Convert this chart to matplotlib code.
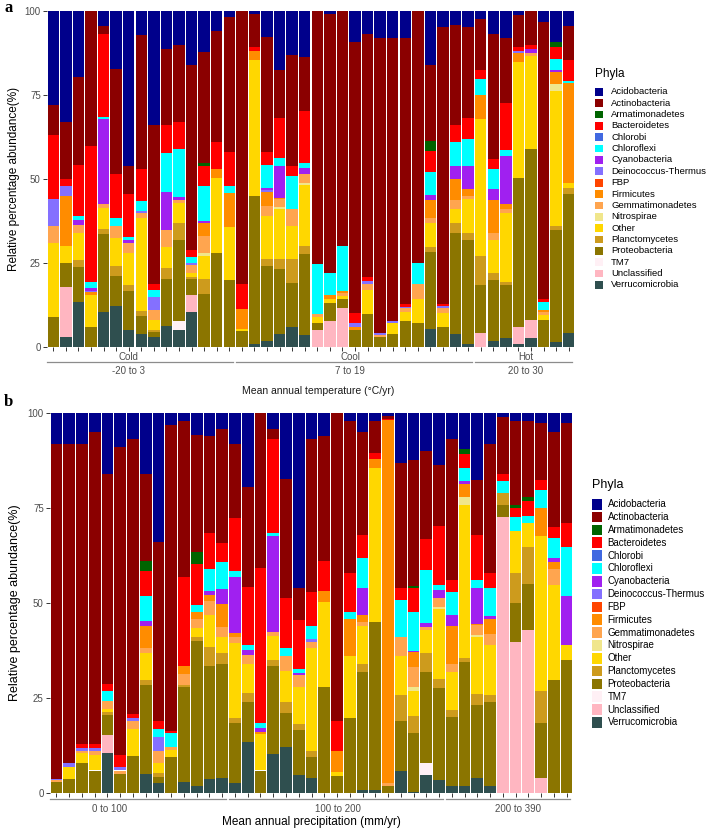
import matplotlib
matplotlib.use("Agg")
import matplotlib.pyplot as plt
from matplotlib.patches import Rectangle

plt.rcParams['font.family'] = ['Liberation Sans', 'DejaVu Sans']

W, H = 708, 830

phyla = ["Acidobacteria", "Actinobacteria", "Armatimonadetes", "Bacteroidetes",
         "Chlorobi", "Chloroflexi", "Cyanobacteria", "Deinococcus-Thermus", "FBP",
         "Firmicutes", "Gemmatimonadetes", "Nitrospirae", "Other", "Planctomycetes",
         "Proteobacteria", "TM7", "Unclassified", "Verrucomicrobia"]
colors = ["#00008B", "#8B0000", "#006400", "#FF0000", "#4169E1", "#00FFFF",
          "#A020F0", "#8470FF", "#FF4500", "#FF8C00", "#FFA54F", "#F0E68C",
          "#FFD700", "#CD9B1D", "#8B7500", "#FFF0F5", "#FFB6C1", "#2F4F4F"]

# ---- panel a: mean annual temperature (42 samples) ----
temp_groups = ["Cold", "Cool", "Hot"]
temp_ranges = ["-20 to 3", "7 to 19", "20 to 30"]
temp_group_size = [15, 19, 8]

temp_acido = [28, 33, 19.8, 0, 4.5, 17.3, 46, 7.1, 34, 11.5, 10.1, 16.1, 12.4, 6, 2, 0, 1, 7.9, 17.6, 13.2,
              13.7, 0, 1, 0, 9.2, 7, 8, 8, 8, 0, 16, 4.7, 4.1, 4.7, 2.5, 7, 8.2, 1.3, 0, 3.3, 9.4, 4.6]
temp_actino = [9, 17, 26, 40.2, 2.4, 31.3, 8.5, 39.9, 47.1, 22.6, 23, 55, 32.9, 32.9, 40.1, 81.1, 9.7, 34.1, 14.4, 32.9,
               16, 75.2, 76.9, 70, 80.6, 72, 87.8, 84.1, 79.1, 75, 22.8, 82.4, 29.9, 27.2, 15.1, 37.1, 19.3, 9.4, 10.2, 82.4, 0, 10.1]
temp_armati = [0, 0, 0, 0, 0, 0, 0, 0, 0, 0, 0, 0, 0.8, 0, 0, 0, 0, 0, 0, 0,
               0, 0, 0, 0, 0, 0, 0, 0, 0, 0, 3, 0, 0, 0, 0, 0, 0, 0, 0, 0, 1.4, 0]
temp_bactero = [19, 2, 15.3, 40.5, 24.6, 13.1, 12.6, 9.4, 1.8, 8.1, 8, 2, 6, 8.2, 10, 7.5, 1.3, 3.9, 11.9, 3,
                15.4, 0, 0, 0, 3, 1.3, 0, 0, 0.8, 0, 6.2, 0.6, 5.1, 6.1, 2.7, 3, 13.9, 1.3, 1.3, 0.7, 3.5, 6.1]
temp_chlorobi = [0] * 42
temp_chlorofl = [0, 0, 1.2, 1.6, 0.7, 2.2, 1.1, 3.1, 2.1, 11.8, 14.1, 1.9, 10.4, 0, 2, 0, 0, 6.8, 2.1, 9.9,
                 1.5, 14.9, 6.5, 13.4, 0, 0, 0, 0, 0, 6.3, 6.7, 0, 7, 8, 4.7, 6, 1.8, 0, 0, 2.5, 3.4, 0.6]
temp_cyano = [0, 0, 1.3, 0.9, 25.1, 0, 0.7, 0, 0, 11.1, 1, 0, 0.5, 0, 0, 0, 0, 0.5, 9.6, 0,
              2, 0, 0, 0, 0, 0, 0, 0, 0, 0, 1.5, 0, 3.9, 7, 0, 3.1, 14.3, 0, 1, 0, 0.6, 0]
temp_deino = [8, 3, 0, 0.5, 0, 0, 0, 0.7, 4, 0, 0, 0.5, 0, 0, 0, 0, 0, 0.7, 0, 0,
              0, 0, 0, 0, 1.2, 0.9, 0.5, 0.8, 0.5, 0, 0, 0.7, 0, 0, 0, 0, 0, 0.7, 0, 0, 0, 0]
temp_fbp = [0] * 42
temp_firmi = [0, 15, 0, 0.8, 0, 0, 0, 0, 0, 0, 0, 0, 3.9, 2.7, 10.1, 6, 2.7, 4, 0.4, 0,
              0, 0, 1.3, 0.5, 1, 0, 0, 0, 0, 0, 5.5, 0, 6.2, 2, 7.3, 9.7, 1.5, 2.4, 0, 0.5, 3.4, 29.7]
temp_gemma = [5, 0, 2.4, 0, 1.3, 3.7, 3.2, 1.5, 3, 5, 0.8, 2.5, 5, 0, 0, 0, 0, 3, 2.2, 5,
              2.5, 0.8, 0, 0.8, 0, 1.8, 0.7, 0, 1, 4.4, 1.5, 1.5, 2.8, 1, 0, 2.2, 1.2, 0, 1, 1, 0, 0]
temp_nitro = [0, 0, 0, 0, 0, 0, 0, 0, 0, 0, 0, 0, 1, 0, 0, 0, 0, 0, 0.8, 0,
              0.7, 0, 0, 0, 0, 0, 0, 0, 0, 0, 0, 0, 0, 0, 0, 0, 0, 0, 0, 0, 2.3, 0]
temp_other = [22, 5, 8, 9.5, 6.3, 8.2, 9.5, 27.4, 2.8, 6.2, 6.2, 1, 6.9, 22.3, 15.8, 0.7, 40.3, 12.9, 14.9, 9.9,
              18.1, 1.8, 1.2, 1, 0, 7.1, 0, 3.1, 2.7, 7, 6.9, 4.2, 4.2, 10.1, 40.6, 9.9, 20.3, 34.7, 27.7, 1.5, 40.1, 1.7]
temp_plancto = [0, 0, 2, 0, 1.4, 2.9, 1.7, 1.6, 0.7, 3.5, 4.9, 0.7, 4.4, 0, 0, 0, 0, 2, 2.9, 7.1,
                2.5, 0, 0, 0, 0, 0, 0, 0, 0, 0, 1.7, 0, 2.9, 2, 8.6, 2, 1, 0, 0, 0, 1.2, 1.7]
temp_proteo = [9, 7, 10.4, 6, 23.3, 9, 11.7, 5.3, 1.5, 13.9, 24, 4.8, 15.8, 27.9, 20, 4.7, 44, 22.2, 19.2, 13,
               23.9, 2.3, 5.2, 2.5, 5, 9.9, 3, 4, 7.9, 7.3, 22.8, 5.9, 29.9, 30.9, 14.3, 18, 15.8, 44.1, 50.7, 8.1, 33, 41.3]
temp_tm7 = [0, 0, 0, 0, 0, 0, 0, 0, 0, 0, 2.9, 0, 0, 0, 0, 0, 0, 0, 0, 0,
            0, 0, 0, 0, 0, 0, 0, 0, 0, 0, 0, 0, 0, 0, 0, 0, 0, 0, 0, 0, 0, 0]
temp_unclass = [0, 15, 0, 0, 0, 0, 0, 0, 0, 0, 0, 5.1, 0, 0, 0, 0, 0, 0, 0, 0,
                0, 5, 7.9, 11.8, 0, 0, 0, 0, 0, 0, 0, 0, 0, 0, 4.2, 0, 0, 5.1, 5.4, 0, 0, 0]
temp_verruco = [0, 3, 13.6, 0, 10.4, 12.3, 5, 4, 3, 6.3, 5, 10.4, 0, 0, 0, 0, 1, 2, 4, 6,
                3.7, 0, 0, 0, 0, 0, 0, 0, 0, 0, 5.4, 0, 4, 1, 0, 2, 2.7, 1, 2.7, 0, 1.7, 4.2]

# ---- panel b: mean annual precipitation (41 samples) ----
precip_ranges = ["0 to 100", "100 to 200", "200 to 390"]
precip_group_size = [14, 17, 10]

precip_acido = [8.2, 8.1, 8.1, 5, 16, 9, 6.8, 16, 34, 3.1, 2, 5.7, 6, 4.2, 8.1, 19.5, 0, 4.2, 17.4, 46.1,
                6.8, 6, 0, 2, 5, 2, 0.8, 13.2, 12.3, 10, 13.6, 6.7, 9.3, 17.5, 8.1, 1, 2.1, 2, 2.6, 5, 2.5]
precip_actino = [88, 84, 78.9, 82, 55.2, 80.9, 72.3, 23, 47.1, 80.4, 41.2, 30.7, 25.4, 30, 19.4, 26.2, 40.6, 2.6, 31.1, 8.3,
                 40.1, 32.9, 81, 40.1, 27, 8.5, 0.6, 32.9, 33.1, 23.2, 16, 37.3, 0, 14.5, 34, 14.9, 22, 20, 15, 25, 26.5]
precip_armati = [0, 0, 0, 0, 0, 0, 0, 2.5, 0, 0, 0, 3.2, 0, 0, 0, 0, 0, 0, 0, 0,
                 0, 0, 0, 0, 0, 0, 0, 0, 0.7, 0, 0, 0, 1.5, 0, 0, 0, 0.9, 1, 0, 0, 0]
precip_bactero = [0, 0, 1.2, 1.1, 1.8, 3.1, 1, 6.5, 2.1, 0.7, 23.3, 10.8, 9.6, 5, 13.9, 15.3, 40.8, 24.8, 13.2, 13,
                  9.2, 7.9, 7.8, 10.1, 6, 1.5, 0.3, 3, 6.1, 8, 15.6, 3, 3.5, 11.9, 4, 2, 2.2, 4.1, 2.6, 2.9, 6.1]
precip_chlorobi = [0] * 41
precip_chlorofl = [0, 0, 0, 0, 2.6, 0, 0, 6.6, 1.9, 3.5, 0, 2, 5.8, 7, 1.8, 1.4, 1.5, 0.7, 2.1, 1,
                   3.4, 0, 0, 1.9, 7.9, 0, 0, 9.9, 10.3, 13.9, 1.3, 6, 3.5, 2.2, 7.2, 3.1, 3.8, 1.8, 4.8, 5.1, 12.9]
precip_cyano = [0, 0, 0, 0, 0, 0, 0, 1.5, 0, 0, 0, 0, 1, 3.9, 14.5, 1.1, 0.9, 25.3, 0, 0.4,
                0, 0, 0, 0, 7.2, 0, 0, 0, 0.4, 1.1, 2.2, 3.1, 0.7, 9.4, 0.8, 0, 0, 0, 0, 1.1, 13.1]
precip_deino = [0.3, 0.9, 0.6, 0.9, 0, 1, 1, 0, 3.9, 0, 0, 0, 0, 0, 0, 0, 0, 0, 0, 0,
                0.6, 0, 0, 0, 0, 0, 0, 0, 0, 0, 0, 0, 0, 0, 0, 0, 0, 0, 0, 0, 0]
precip_fbp = [0] * 41
precip_firmi = [0, 0, 0, 0, 0, 0, 0, 5.6, 0, 0, 2.1, 1.8, 1.6, 6.1, 1.3, 0, 0.6, 0, 0, 0,
                0, 2.9, 5.7, 9.9, 1.9, 2.5, 95.5, 0, 3.9, 0, 0, 10, 3.5, 0.3, 3.9, 0, 0, 0, 7.3, 1.9, 0]
precip_gemma = [0.6, 0, 0.7, 0.9, 2.3, 1, 2, 1.3, 3.1, 0.9, 2.9, 2.4, 3.7, 2.8, 1.4, 2.4, 0, 1, 3.9, 3.3,
                1.7, 0, 0, 0, 1.1, 0, 0.8, 5, 5.1, 0.7, 2.4, 2.1, 0, 2.5, 3.1, 0, 0, 0, 0, 4.2, 0]
precip_nitro = [0, 0, 0, 0, 0, 0, 0, 0, 0, 0, 0, 0, 0, 0, 0, 0, 0, 0, 0, 0,
                0, 0, 0, 0, 0, 0, 0, 0, 1.1, 0, 0.5, 0, 2.2, 0.6, 0, 0, 0, 0, 0, 0, 0]
precip_other = [0, 3.2, 2.6, 4.1, 0.6, 0, 7, 7.2, 2.6, 1.8, 0, 2.2, 8.3, 4.2, 19.9, 7.7, 9.6, 6.3, 8.2, 9.6,
                27.1, 22.2, 0.9, 16.1, 10, 40.5, 0, 10.1, 6.6, 6.3, 18.3, 9.9, 40.1, 15, 13, 0, 10.9, 6.2, 40.8, 25, 3.8]
precip_plancto = [0, 0, 0, 0, 0.9, 0, 0, 1.3, 0.9, 0, 0.4, 1.1, 5, 2.8, 1.1, 2.5, 0, 1.6, 2.9, 1.6,
                  1.5, 0, 0, 0, 2.1, 0, 0, 7, 4.6, 5, 2.5, 1.9, 1.1, 2.9, 1.8, 3.1, 7.9, 9.9, 8.5, 0, 0]
precip_proteo = [2.9, 3.8, 7.9, 6, 5.2, 5, 9.9, 23.4, 1.6, 9.6, 25, 38.3, 29.8, 30.1, 16, 10.3, 6, 23.1, 9.1, 11.9,
                 5.7, 28.1, 4.6, 19.9, 30.9, 44.1, 2, 13, 15.5, 23.9, 24.1, 18.2, 32.8, 19.3, 22.3, 3.1, 10.3, 12, 14.5, 29.8, 35.1]
precip_tm7 = [0, 0, 0, 0, 0, 0, 0, 0, 0, 0, 0, 0, 0, 0, 0, 0, 0, 0, 0, 0,
              0, 0, 0, 0, 0, 0, 0, 0, 0, 3.1, 0, 0, 0, 0, 0, 0, 0, 0, 0, 0, 0]
precip_unclass = [0, 0, 0, 0, 4.9, 0, 0, 0, 0, 0, 0, 0, 0, 0, 0, 0, 0, 0, 0, 0,
                  0, 0, 0, 0, 0, 0, 0, 0, 0, 0, 0, 0, 0, 0, 0, 72.8, 39.9, 43, 3.9, 0, 0]
precip_verruco = [0, 0, 0, 0, 10.5, 0, 0, 5.1, 2.8, 0, 3.1, 1.8, 3.8, 3.9, 2.6, 13.6, 0, 10.4, 12.1, 4.8,
                  3.9, 0, 0, 0, 0.9, 0.9, 0, 5.9, 0.3, 4.8, 3.5, 1.8, 1.8, 3.9, 1.8, 0, 0, 0, 0, 0, 0]

temp_data = [temp_acido, temp_actino, temp_armati, temp_bactero, temp_chlorobi, temp_chlorofl,
             temp_cyano, temp_deino, temp_fbp, temp_firmi, temp_gemma, temp_nitro, temp_other,
             temp_plancto, temp_proteo, temp_tm7, temp_unclass, temp_verruco]
precip_data = [precip_acido, precip_actino, precip_armati, precip_bactero, precip_chlorobi, precip_chlorofl,
               precip_cyano, precip_deino, precip_fbp, precip_firmi, precip_gemma, precip_nitro, precip_other,
               precip_plancto, precip_proteo, precip_tm7, precip_unclass, precip_verruco]


def fx(px):
    return px / W


def fy(py):
    return 1 - py / H


def stacked(ax, data):
    n = len(data[0])
    x = list(range(n))
    bottom = [0.0] * n
    # ggplot stacks the last level at the bottom
    for vals, col in zip(data[::-1], colors[::-1]):
        ax.bar(x, vals, bottom=bottom, width=0.92, color=col, linewidth=0)
        bottom = [b + v for b, v in zip(bottom, vals)]
    ax.set_xlim(-0.5, n - 0.5)
    ax.set_ylim(0, 100)
    ax.set_xticks(x)
    ax.set_xticklabels([])
    ax.set_yticks([0, 25, 50, 75, 100])
    ax.tick_params(axis='both', colors='#333333', length=3, width=0.7, labelsize=7,
                   labelcolor='#4D4D4D', pad=1.5)
    for s in ax.spines.values():
        s.set_visible(False)
    return n


def groups(ax, n, sizes, line_y, top_labels, top_y, bottom_labels, bot_y, label_x):
    tr = ax.get_xaxis_transform()
    start = 0
    for i, size in enumerate(sizes):
        end = start + size - 1
        x0 = max(-0.5, start - 0.47)
        x1 = min(n - 0.5, end + 0.3)
        ax.plot([x0, x1], [line_y, line_y], color='#8C8C8C', lw=0.9, transform=tr, clip_on=False)
        if top_labels:
            ax.text(label_x[i], top_y, top_labels[i], transform=tr, ha='center', va='center',
                    fontsize=7, color='#4D4D4D')
        ax.text(label_x[i], bot_y, bottom_labels[i], transform=tr, ha='center', va='center',
                fontsize=7, color='#4D4D4D')
        start += size


def legend(fig, x_key, key_w, key_h, x_text, y_title, y0, dy, fs, fs_title):
    fig.text(fx(x_key), fy(y_title), "Phyla", fontsize=fs_title, ha='left', va='center')
    for i, (name, col) in enumerate(zip(phyla, colors)):
        yc = y0 + i * dy
        fig.add_artist(Rectangle((fx(x_key), fy(yc + key_h / 2)), key_w / W, key_h / H,
                                 transform=fig.transFigure, facecolor=col, edgecolor='none'))
        fig.text(fx(x_text), fy(yc), name, fontsize=fs, ha='left', va='center')


fig = plt.figure(figsize=(W / 100, H / 100), dpi=100)

# panel a
ax1 = fig.add_axes([fx(47), fy(347.3), 528 / W, 336.6 / H])
n1 = stacked(ax1, temp_data)
groups(ax1, n1, temp_group_size, -0.0446, temp_groups, -0.028, temp_ranges, -0.071, [6.0, 23.6, 37.6])
fig.text(fx(318), fy(391), "Mean annual temperature (°C/yr)", fontsize=7.5, ha='center', va='center',
         color='#1A1A1A')
fig.text(fx(14), fy(179), "Relative percentage abundance(%)", rotation=90, fontsize=8.5,
         ha='center', va='center')
fig.text(fx(8.5), fy(8), "a", fontsize=12, fontweight='bold', family='Liberation Serif',
         ha='center', va='center')
legend(fig, 595, 7.7, 7.7, 611, 74, 91.7, 11.37, 6.8, 8.5)

# panel b
ax2 = fig.add_axes([fx(50), fy(793.3), 523 / W, 380 / H])
n2 = stacked(ax2, precip_data)
groups(ax2, n2, precip_group_size, -0.015, None, 0, precip_ranges, -0.041, [4.15, 22.1, 36.2])
fig.text(fx(311), fy(821.7), "Mean annual precipitation (mm/yr)", fontsize=8.5, ha='center', va='center')
fig.text(fx(15), fy(603), "Relative percentage abundance(%)", rotation=90, fontsize=9,
         ha='center', va='center')
fig.text(fx(8.5), fy(402), "b", fontsize=12, fontweight='bold', family='Liberation Serif',
         ha='center', va='center')
legend(fig, 591.7, 10.6, 10.6, 607.5, 485, 504.3, 12.83, 7.0, 9)

fig.savefig("out.png", dpi=100)
